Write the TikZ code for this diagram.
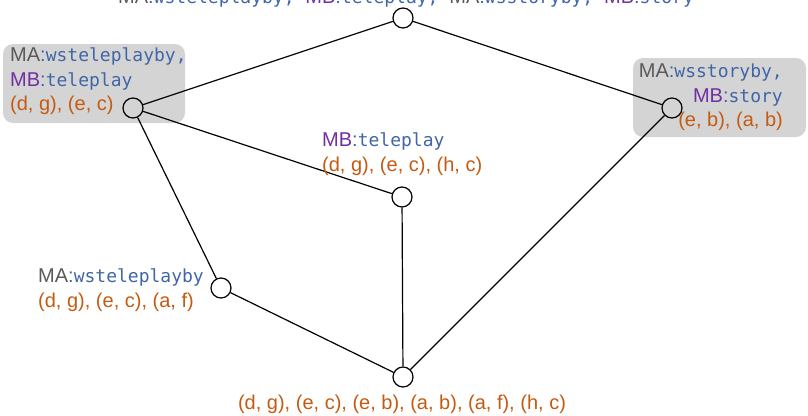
\documentclass[tikz,border=0pt]{standalone}
\usepackage{fontspec}
\setmainfont{Liberation Sans}
\newfontfamily\attrfont{DejaVu Sans Mono}
\usetikzlibrary{positioning}

\definecolor{magray}{HTML}{595959}
\definecolor{mbpurple}{HTML}{7030A0}
\definecolor{attrblue}{HTML}{4066A8}
\definecolor{pairorange}{HTML}{C55A11}
\definecolor{boxgray}{HTML}{D4D4D4}

\newcommand{\MAlbl}{\textcolor{magray}{MA}\textcolor{attrblue}{:}}
\newcommand{\MBlbl}{\textcolor{mbpurple}{MB}\textcolor{attrblue}{:}}
\newcommand{\attr}[1]{\textcolor{attrblue}{\attrfont\fontsize{18}{25}\selectfont #1}}
\newcommand{\pairs}[1]{\textcolor{pairorange}{#1}}

\begin{document}
\begin{tikzpicture}[x=1pt,y=-1pt,
 every node/.style={font=\fontsize{20}{24.5}\selectfont},
 elem/.style={draw,circle,minimum size=20pt,inner sep=0pt,line width=1.2pt},
 lbl/.style={inner sep=0pt},
 grp/.style={fill=boxgray,rounded corners=10pt},
 link/.style={line width=1.2pt}]
\useasboundingbox (0,0) rectangle (808,415);
% shaded groups
\fill[grp] (3,44) rectangle (185,123);
\fill[grp] (633,58) rectangle (806,137);
% lattice elements
\node[elem] (top) at (403,18) {};
\node[elem] (lft) at (133,108) {};
\node[elem] (rgt) at (672,108) {};
\node[elem] (mid) at (402,197) {};
\node[elem] (low) at (221,288) {};
\node[elem] (bot) at (403,377) {};
% edges
\draw[link] (top) -- (lft);
\draw[link] (top) -- (rgt);
\draw[link] (lft) -- (mid);
\draw[link] (lft) -- (low);
\draw[link] (mid) -- (bot);
\draw[link] (low) -- (bot);
\draw[link] (rgt) -- (bot);
% labels
\node[lbl,anchor=base west] (toplbl) at (118,3)
 {\MAlbl\attr{wsteleplayby, }\MBlbl\attr{teleplay, }\MAlbl\attr{wsstoryby, }\MBlbl\attr{story}};
\node[lbl,align=left,anchor=north west] (lftlbl) at (10,48)
 {\MAlbl\attr{wsteleplayby,}\\\MBlbl\attr{teleplay}\\\pairs{(d, g), (e, c)}};
\node[lbl,align=right,anchor=north east] (rgtlbl) at (783,64)
 {\MAlbl\attr{wsstoryby,}\\\MBlbl\attr{story}\\\pairs{(e, b), (a, b)}};
\node[lbl,align=left,anchor=north west] (midlbl) at (322,133)
 {\MBlbl\attr{teleplay}\\\pairs{(d, g), (e, c), (h, c)}};
\node[lbl,align=left,anchor=north west] (lowlbl) at (38,269)
 {\MAlbl\attr{wsteleplayby}\\\pairs{(d, g), (e, c), (a, f)}};
\node[lbl,anchor=base] (botlbl) at (402,409)
 {\pairs{(d, g), (e, c), (e, b), (a, b), (a, f), (h, c)}};
\end{tikzpicture}
\end{document}
